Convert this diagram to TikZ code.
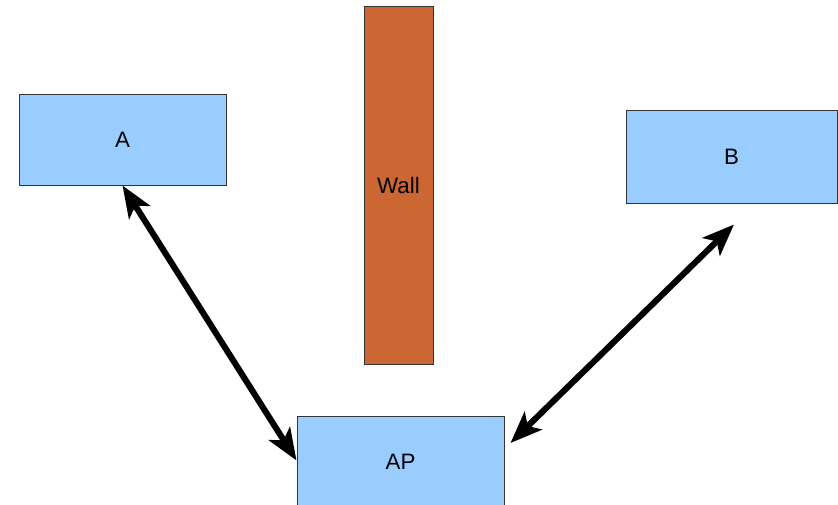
\documentclass[tikz,border=0pt]{standalone}
\usepackage{fontspec}
\setmainfont{Liberation Sans}
\usetikzlibrary{arrows.meta,calc}

\definecolor{boxblue}{HTML}{99CCFF}
\definecolor{wallbrown}{HTML}{CC6633}

\newlength\pxu
\setlength\pxu{0.851pt}

\tikzset{
  station/.style={draw=black!80,line width=1\pxu,fill=boxblue,minimum width=207\pxu,minimum height=91\pxu,inner sep=0pt,font=\fontsize{19}{21}\selectfont},
  wallbox/.style={draw=black!80,line width=1\pxu,fill=wallbrown,minimum width=69\pxu,minimum height=357\pxu,inner sep=0pt,font=\fontsize{19}{21}\selectfont},
  link/.style={line width=5.2pt,{Stealth[length=27pt,width=21pt,inset=6.5pt]}-{Stealth[length=27pt,width=21pt,inset=6.5pt]}}
}

\begin{document}
\begin{tikzpicture}[x=0.851pt,y=-0.851pt]

\useasboundingbox (0,0) rectangle (838,504);

\node[station] (A)  at (122.5,139.5) {A};
\node[station,minimum width=211\pxu,minimum height=93\pxu] (B) at (731.5,156.5) {B};
\node[station] (AP) at (400.5,461.5) {AP};

\node[wallbox] (wall) at (398.5,185.5) {Wall};

\draw[link] (A.south) -- ($(AP.west)+(0,-1)$);
\draw[link] ($(B.south)+(2.5,21)$) -- ($(AP.east)+(6,-18.5)$);

\end{tikzpicture}
\end{document}
